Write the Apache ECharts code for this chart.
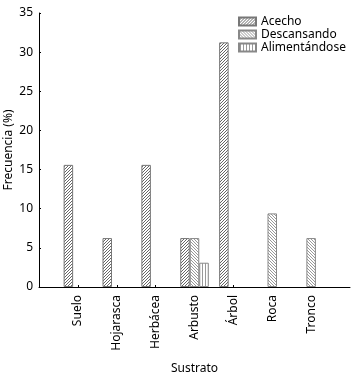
<!DOCTYPE html>
<html>
<head>
<meta charset="utf-8">
<script src="https://cdn.jsdelivr.net/npm/echarts@6/dist/echarts.min.js"></script>
<style>
  html, body { margin: 0; padding: 0; background: #fff; }
  #chart { width: 359px; height: 378px; }
</style>
</head>
<body>
<div id="chart"></div>
<script>
const categories = ['Suelo', 'Hojarasca', 'Herbácea', 'Arbusto', 'Árbol', 'Roca', 'Tronco']
const acecho = [15.6, 6.25, 15.6, 6.25, 31.25, 0, 0]
const descansando = [0, 0, 0, 6.25, 0, 9.4, 6.25]
const alimentandose = [0, 0, 0, 3.1, 0, 0, 0]
const yTicks = [0, 5, 10, 15, 20, 25, 30, 35]

// hatch pattern tiles
function hatch(kind, color) {
  const n = 3
  const c = document.createElement('canvas')
  c.width = n
  c.height = n
  const ctx = c.getContext('2d')
  ctx.fillStyle = '#fff'
  ctx.fillRect(0, 0, n, n)
  ctx.strokeStyle = color
  ctx.lineWidth = 1
  ctx.beginPath()
  if (kind === 'fwd') {
    ctx.moveTo(0, n); ctx.lineTo(n, 0)
    ctx.moveTo(-1, 1); ctx.lineTo(1, -1)
    ctx.moveTo(n - 1, n + 1); ctx.lineTo(n + 1, n - 1)
  } else if (kind === 'back') {
    ctx.moveTo(0, 0); ctx.lineTo(n, n)
    ctx.moveTo(n - 1, -1); ctx.lineTo(n + 1, 1)
    ctx.moveTo(-1, n - 1); ctx.lineTo(1, n + 1)
  } else {
    ctx.moveTo(1.5, 0); ctx.lineTo(1.5, n)
  }
  ctx.stroke()
  return { image: c, repeat: 'repeat' }
}

// pad with empty slots so the categories sit inside the axis like the original
const axisCats = [''].concat(categories, [''])
const pad = arr => [null].concat(arr.map(v => v || null), [null])

const chart = echarts.init(document.getElementById('chart'))

const series = [
  { name: 'Acecho', data: acecho, fill: hatch('fwd', '#666'), border: '#777' },
  { name: 'Descansando', data: descansando, fill: hatch('back', '#999'), border: '#888' },
  { name: 'Alimentándose', data: alimentandose, fill: hatch('vert', '#999'), border: '#888' }
]

chart.setOption({
  animation: false,
  textStyle: { fontFamily: 'Noto Sans' },
  legend: {
    orient: 'vertical',
    left: 233,
    top: 10,
    itemWidth: 17,
    itemHeight: 8,
    itemGap: 0,
    icon: 'rect',
    textStyle: { fontSize: 12, color: '#000', lineHeight: 13 },
    data: series.map(s => s.name)
  },
  grid: { left: 39, right: 9, top: 13, bottom: 91, outerBoundsMode: 'none', containLabel: false },
  xAxis: {
    type: 'category',
    data: axisCats,
    boundaryGap: false,
    name: 'Sustrato',
    nameLocation: 'middle',
    nameGap: 76,
    nameMoveOverlap: false,
    nameTextStyle: { fontSize: 12, color: '#000' },
    axisLine: { lineStyle: { color: '#000', width: 1 } },
    axisTick: {
      inside: true,
      length: 2,
      lineStyle: { color: '#000' },
      interval: (i, v) => v !== ''
    },
    axisLabel: {
      rotate: 90,
      fontSize: 12,
      color: '#000',
      margin: 8,
      interval: 0
    }
  },
  yAxis: {
    type: 'value',
    min: yTicks[0],
    max: yTicks[yTicks.length - 1],
    interval: 5,
    name: 'Frecuencia (%)',
    nameLocation: 'middle',
    nameGap: 24,
    nameMoveOverlap: false,
    nameTextStyle: { fontSize: 12, color: '#000' },
    axisLine: { show: true, lineStyle: { color: '#000', width: 1 } },
    axisTick: { show: true, inside: true, length: 2, lineStyle: { color: '#000' } },
    axisLabel: { fontSize: 12, color: '#000', margin: 6 },
    splitLine: { show: false }
  },
  series: series.map(s => ({
    name: s.name,
    type: 'bar',
    barWidth: 9.5,
    barGap: '0%',
    data: pad(s.data),
    itemStyle: { color: s.fill, borderColor: s.border, borderWidth: 1 }
  }))
})
</script>
</body>
</html>
